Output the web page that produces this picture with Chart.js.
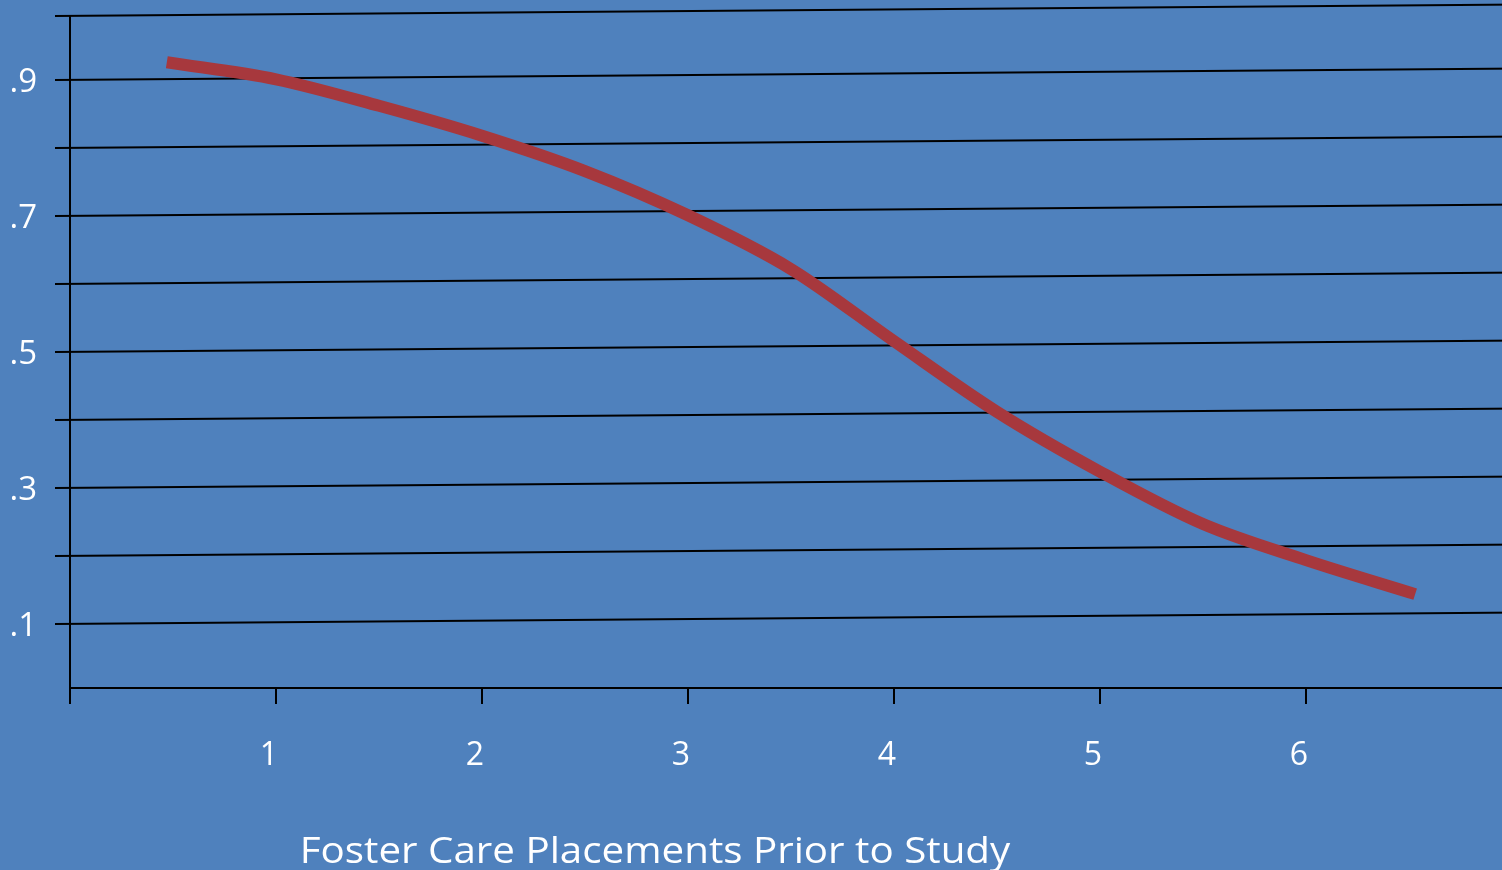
<!DOCTYPE html>
<html><head><meta charset="utf-8">
<script src="https://cdn.jsdelivr.net/npm/chart.js@4"></script>
<style>
html,body{margin:0;padding:0;background:#4F81BD;overflow:hidden;width:1502px;height:870px;}
canvas{display:block;}
</style></head>
<body>
<canvas id="c" width="1522" height="870" style="width:1522px;height:870px"></canvas>
<script>
const placements = [0.47, 1, 1.5, 2, 2.5, 3, 3.5, 4, 4.5, 5, 5.5, 6, 6.53];
const probability = [0.926, 0.901, 0.862, 0.818, 0.766, 0.701, 0.622, 0.516, 0.412, 0.324, 0.247, 0.194, 0.144];
const xTickValues = [0, 1, 2, 3, 4, 5, 6, 7];
const xTickLabels = ['', '1', '2', '3', '4', '5', '6', ''];
const yTickValues = [0.1, 0.2, 0.3, 0.4, 0.5, 0.6, 0.7, 0.8, 0.9];
const yTickLabels = ['.1', '', '.3', '', '.5', '', '.7', '', '.9'];
const xTitle = 'Foster Care Placements Prior to Study';
const Y_MIN = 0.006, Y_MAX = 0.994;

const FONT = '"Open Sans", "Noto Sans", sans-serif';

function zeroPad(s) { s.paddingTop = 0; s.paddingBottom = 0; s.paddingLeft = 0; s.paddingRight = 0; }

const tiltedGrid = {
  id: 'tiltedGrid',
  beforeDatasetsDraw(chart) {
    const ctx = chart.ctx, y = chart.scales.y;
    const x0 = 55, x1 = chart.width, slope = 0.0078;
    ctx.save();
    ctx.strokeStyle = '#000';
    ctx.lineWidth = 2;
    yTickValues.concat([Y_MAX]).forEach(v => {
      const py = y.getPixelForValue(v);
      ctx.beginPath();
      ctx.moveTo(x0, py);
      ctx.lineTo(x1, py - slope * (x1 - x0));
      ctx.stroke();
    });
    ctx.restore();
  }
};

const axisTitle = {
  id: 'axisTitle',
  afterDraw(chart) {
    const ctx = chart.ctx;
    ctx.save();
    ctx.fillStyle = '#ffffff';
    ctx.font = '36px ' + FONT;
    ctx.textAlign = 'center';
    ctx.textBaseline = 'alphabetic';
    ctx.translate(655, 863);
    ctx.scale(1.12, 1);
    ctx.fillText(xTitle, 0, 0);
    ctx.restore();
  }
};

function build() {
  new Chart(document.getElementById('c'), {
    type: 'line',
    data: {
      datasets: [{
        data: placements.map((x, i) => ({ x: x, y: probability[i] })),
        borderColor: '#A7383D',
        borderWidth: 12,
        pointRadius: 0,
        cubicInterpolationMode: 'monotone',
        borderCapStyle: 'butt',
        fill: false
      }]
    },
    options: {
      responsive: false,
      animation: false,
      devicePixelRatio: 1,
      layout: { padding: { top: 16, right: 10, bottom: 0, left: 0 } },
      plugins: { legend: { display: false }, tooltip: { enabled: false } },
      scales: {
        x: {
          type: 'linear', min: 0, max: 7,
          afterBuildTicks: s => { s.ticks = xTickValues.map(v => ({ value: v })); },
          afterFit: s => { s.height = 182; zeroPad(s); },
          grid: { drawOnChartArea: false, drawTicks: true, tickLength: 16, color: '#000', lineWidth: 2 },
          border: { display: true, color: '#000', width: 2 },
          ticks: {
            color: '#ffffff', font: { family: FONT, size: 32 }, padding: 33, labelOffset: -7,
            maxRotation: 0, autoSkip: false,
            callback: (v, i) => xTickLabels[i]
          }
        },
        y: {
          min: Y_MIN, max: Y_MAX,
          afterBuildTicks: s => { s.ticks = yTickValues.concat([Y_MAX]).map(v => ({ value: v })); },
          afterFit: s => { s.width = 70; zeroPad(s); },
          grid: { display: false, drawTicks: false },
          border: { display: true, color: '#000', width: 2 },
          ticks: {
            color: '#ffffff', font: { family: FONT, size: 33 }, padding: 33, labelOffset: 3, autoSkip: false,
            callback: (v, i) => (yTickLabels[i] !== undefined ? yTickLabels[i] : '')
          }
        }
      }
    },
    plugins: [tiltedGrid, axisTitle]
  });
}
if (document.fonts && document.fonts.load) {
  document.fonts.load('32px "Open Sans"').then(build, build);
} else { build(); }
</script>
</body></html>
